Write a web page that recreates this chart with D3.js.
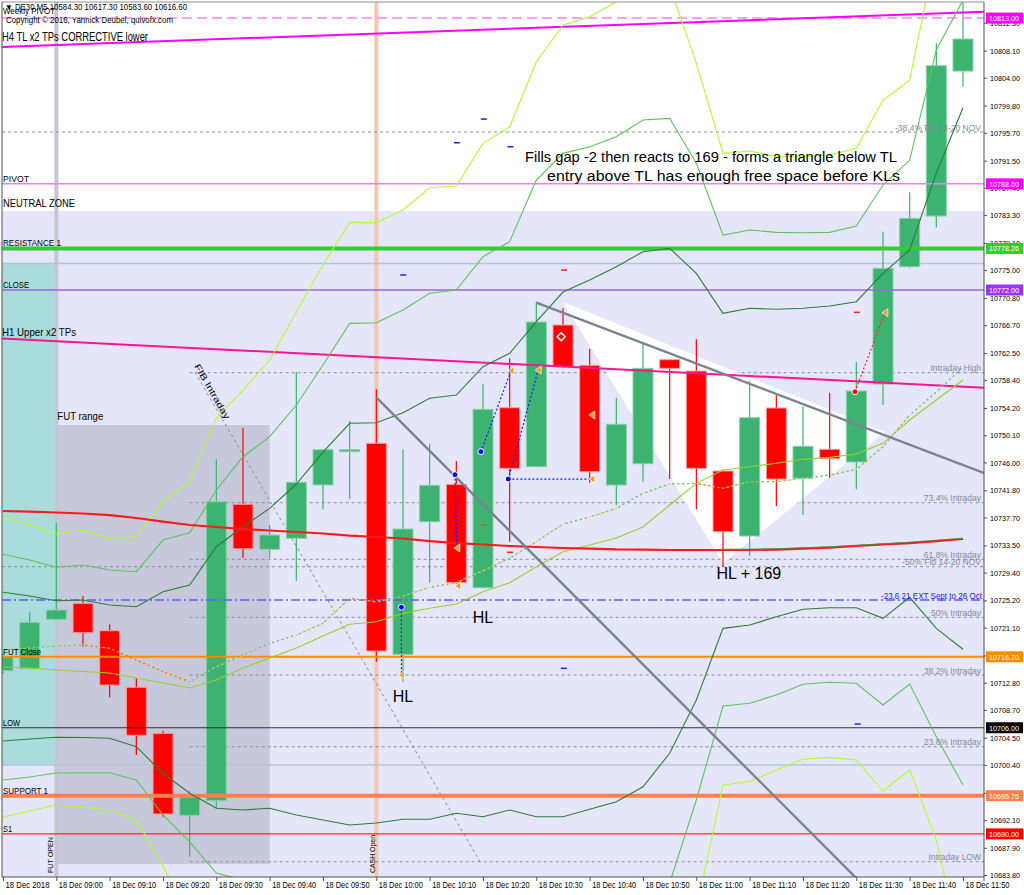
<!DOCTYPE html>
<html>
<head>
<meta charset="utf-8">
<script src="https://cdn.jsdelivr.net/npm/d3@7"></script>
<style>
  body { margin: 0; background: #fff; }
  svg { display: block; }
  text { font-family: "Liberation Sans", Arial, sans-serif; }
</style>
</head>
<body>
<svg width="1024" height="895"></svg>
<script>
// ---- candles, DE30 M5, 18 Dec 2018 08:50 .. 11:50 (bar index 0..36)
const opens  = [10714.6, 10714.9, 10722.35, 10724.76, 10720.63, 10712.1, 10705.16, 10692.8, 10695.0, 10739.69, 10732.9, 10734.56, 10742.6, 10747.62, 10748.88, 10717.07, 10737.06, 10742.7, 10727.11, 10754.25, 10745.36, 10766.72, 10760.64, 10742.6, 10745.81, 10761.49, 10759.78, 10744.71, 10734.91, 10754.21, 10743.61, 10747.98, 10746.07, 10757.82, 10775.51, 10783.15, 10805.01];
const highs  = [10717.2, 10723.4, 10736.9, 10725.86, 10721.6, 10713.46, 10705.56, 10696.5, 10746.47, 10751.24, 10736.57, 10759.63, 10748.0, 10752.25, 10757.02, 10747.98, 10748.73, 10746.22, 10757.78, 10761.7, 10770.23, 10769.24, 10763.15, 10755.76, 10763.96, 10761.6, 10764.56, 10744.9, 10758.23, 10756.12, 10754.46, 10756.51, 10761.14, 10780.79, 10786.73, 10809.19, 10817.0];
const lows   = [10714.2, 10714.9, 10722.3, 10718.22, 10710.59, 10701.89, 10692.59, 10686.56, 10693.86, 10731.64, 10731.64, 10728.12, 10738.93, 10740.53, 10715.96, 10712.94, 10727.87, 10727.7, 10727.0, 10734.05, 10745.3, 10760.3, 10742.94, 10739.58, 10743.09, 10743.5, 10738.93, 10730.28, 10731.89, 10739.43, 10738.07, 10743.7, 10741.95, 10754.66, 10775.3, 10781.39, 10802.65];
const closes = [10716.7, 10721.9, 10723.75, 10720.33, 10712.44, 10704.86, 10693.0, 10695.6, 10740.08, 10732.99, 10735.06, 10743.0, 10747.92, 10747.92, 10717.57, 10735.96, 10742.55, 10727.87, 10754.01, 10745.11, 10767.17, 10760.43, 10744.6, 10751.75, 10760.19, 10760.19, 10745.11, 10735.56, 10752.74, 10743.5, 10748.43, 10746.56, 10756.77, 10775.27, 10782.8, 10805.81, 10809.84];

// ---- indicators
const maSlow = [10738.68, 10738.60, 10738.45, 10738.30, 10738.07, 10737.62, 10737.09, 10736.57, 10736.27, 10735.96, 10735.74, 10735.51, 10735.29, 10734.98, 10734.76, 10734.53, 10734.15, 10733.85, 10733.63, 10733.40, 10733.25, 10733.10, 10733.02, 10732.90, 10732.87, 10732.80, 10732.80, 10732.80, 10732.80, 10732.87, 10733.02, 10733.17, 10733.40, 10733.63, 10733.85, 10734.15, 10734.46];
const bandOuterUp = [10737.82, 10736.57, 10735.21, 10735.81, 10734.56, 10734.80, 10740.08, 10743.09, 10752.70, 10756.92, 10761.44, 10768.68, 10775.76, 10782.20, 10782.14, 10784.06, 10787.42, 10787.67, 10794.11, 10796.61, 10806.41, 10811.95, 10813.20, 10815.46, 10818.73, 10817.83, 10806.17, 10792.60, 10792.95, 10792.09, 10792.09, 10792.35, 10793.36, 10800.64, 10803.65, 10823.25, 10829.28];
const bandMidUp   = [10732.15, 10731.29, 10730.19, 10730.54, 10729.78, 10729.53, 10734.30, 10735.41, 10741.84, 10746.86, 10749.88, 10754.66, 10760.69, 10766.97, 10767.06, 10768.98, 10771.50, 10771.99, 10777.02, 10779.28, 10788.58, 10792.60, 10793.60, 10795.11, 10797.62, 10797.88, 10791.10, 10780.29, 10781.04, 10780.69, 10780.63, 10780.69, 10781.64, 10787.82, 10791.59, 10808.18, 10815.72];
const bandInnerUp = [10726.42, 10725.86, 10725.15, 10725.26, 10724.51, 10724.25, 10726.51, 10727.52, 10733.29, 10736.31, 10739.08, 10742.75, 10747.57, 10751.90, 10751.99, 10753.50, 10755.67, 10756.16, 10760.43, 10762.45, 10767.22, 10771.69, 10773.50, 10775.51, 10777.77, 10778.28, 10774.51, 10768.48, 10769.24, 10769.09, 10769.24, 10769.58, 10770.23, 10774.51, 10778.03, 10789.63, 10799.48];
const bandInnerDn = [10704.00, 10704.30, 10704.56, 10704.53, 10704.41, 10703.14, 10699.13, 10696.12, 10693.86, 10693.60, 10693.86, 10692.85, 10692.09, 10691.34, 10691.64, 10692.20, 10692.20, 10693.10, 10692.59, 10693.60, 10692.59, 10692.59, 10693.70, 10694.85, 10697.11, 10702.15, 10710.18, 10720.99, 10721.49, 10722.74, 10723.86, 10724.10, 10724.10, 10722.50, 10725.67, 10720.99, 10717.83];
const bandMidDn   = [10698.12, 10698.57, 10699.18, 10699.22, 10699.22, 10698.12, 10692.85, 10688.78, 10684.10, 10683.05, 10683.05, 10680.94, 10678.98, 10676.26, 10676.56, 10676.71, 10676.41, 10677.32, 10675.96, 10676.71, 10671.14, 10671.59, 10673.70, 10675.21, 10677.17, 10682.59, 10695.11, 10709.28, 10709.69, 10710.94, 10712.55, 10712.85, 10712.70, 10709.43, 10712.60, 10704.65, 10697.37];
const bandOuterDn = [10692.54, 10693.45, 10694.35, 10694.05, 10693.60, 10692.09, 10685.16, 10677.02, 10674.45, 10672.95, 10671.59, 10666.91, 10663.90, 10661.04, 10661.49, 10661.64, 10660.43, 10661.64, 10658.92, 10659.38, 10653.35, 10652.29, 10654.10, 10654.85, 10656.06, 10662.69, 10678.52, 10697.37, 10697.87, 10699.63, 10701.24, 10701.54, 10701.14, 10696.46, 10699.63, 10689.08, 10670.99];
const bandMid     = [10715.16, 10715.01, 10714.71, 10714.48, 10714.25, 10713.50, 10712.75, 10711.99, 10713.20, 10715.01, 10716.51, 10718.02, 10719.83, 10721.60, 10721.99, 10723.25, 10724.01, 10724.66, 10726.51, 10727.87, 10730.28, 10732.54, 10733.55, 10734.61, 10736.26, 10739.58, 10742.85, 10744.86, 10745.36, 10745.87, 10746.47, 10746.77, 10747.27, 10748.88, 10752.40, 10755.41, 10758.43];
const signalLine  = [10717.72, 10718.02, 10718.32, 10718.47, 10717.98, 10716.21, 10714.45, 10712.94, 10715.20, 10716.97, 10718.73, 10719.98, 10721.75, 10725.52, 10725.00, 10725.86, 10727.17, 10727.87, 10729.68, 10731.55, 10734.05, 10736.72, 10737.77, 10739.08, 10741.35, 10742.75, 10742.85, 10742.10, 10743.10, 10743.10, 10743.61, 10744.10, 10744.96, 10748.37, 10753.15, 10756.62, 10760.39];

// ---- axes
const xTickBars = [0, 2, 4, 6, 8, 10, 12, 14, 16, 18, 20, 22, 24, 26, 28, 30, 32, 34, 36];
const xTickLabels = ['18 Dec 2018', '18 Dec 09:00', '18 Dec 09:10', '18 Dec 09:20', '18 Dec 09:30', '18 Dec 09:40', '18 Dec 09:50', '18 Dec 10:00', '18 Dec 10:10', '18 Dec 10:20', '18 Dec 10:30', '18 Dec 10:40', '18 Dec 10:50', '18 Dec 11:00', '18 Dec 11:10', '18 Dec 11:20', '18 Dec 11:30', '18 Dec 11:40', '18 Dec 11:50'];
const yTickValues = [10812.30, 10808.10, 10804.00, 10799.80, 10795.70, 10791.50, 10787.40, 10783.30, 10779.10, 10775.00, 10770.80, 10766.70, 10762.50, 10758.40, 10754.20, 10750.10, 10746.00, 10741.80, 10737.70, 10733.50, 10729.40, 10725.20, 10721.10, 10716.90, 10712.80, 10708.70, 10704.50, 10700.40, 10696.20, 10692.10, 10687.90, 10683.80];

// ---- horizontal key levels
const levelNames  = ['Weekly PIVOT', 'PIVOT', 'RESISTANCE 1', 'CLOSE', 'FUT Close', 'LOW', 'SUPPORT 1', 'S1'];
const levelValues = [10813.00, 10788.00, 10778.26, 10772.00, 10716.70, 10706.00, 10695.76, 10690.00];
const levelStyle = {
  'Weekly PIVOT': { stroke: '#ff80ff', width: 1.5, dash: '10,5', tag: '#ff00ff' },
  'PIVOT':        { stroke: '#ff77ff', width: 1.5, dash: null, tag: '#ff00ff' },
  'RESISTANCE 1': { stroke: '#33cc33', width: 4,   dash: null, tag: '#33cc33' },
  'CLOSE':        { stroke: '#9966dd', width: 1.5, dash: null, tag: '#9933ff' },
  'FUT Close':    { stroke: '#ff8c00', width: 2,   dash: null, tag: '#ff8c00' },
  'LOW':          { stroke: '#303030', width: 1,   dash: null, tag: '#000000' },
  'SUPPORT 1':    { stroke: '#ff7f50', width: 4,   dash: null, tag: '#ff7f50' },
  'S1':           { stroke: '#ff0000', width: 1,   dash: null, tag: '#ff0000' }
};
const greyLevels = [10775.99, 10700.38];

// ---- fib levels
const fibNames  = ['Intraday High', '73.4%  Intraday', '61.8% Intraday', '50%  Intraday', '38.2%  Intraday', '23.6%  Intraday', 'Intraday LOW'];
const fibValues = [10759.53, 10739.93, 10731.40, 10722.65, 10713.95, 10703.14, 10685.80];
const fibStartBar = 7;
const novFibNames  = ['-38.4%  Fib 14-20  NOV', '-50%  Fib 14-20  NOV'];
const novFibValues = [10795.82, 10730.28];
const extName  = '-23.6   21 EXT Sept to 26 Oct';
const extValue = 10725.26;

// ---- zones  [barFrom, barTo, priceTop, priceBottom]
const neutralZoneTop = 10783.9;
const cashZone = [-0.3, 1.95, 10775.99, 10700.38];
const futRange = [2.0, 10.0, 10751.64, 10685.46];
const futOpenBar = 2, cashOpenBar = 14;

// ---- drawn lines  [bar, price]
const h4Line     = [[-0.2, 10808.62], [36.8, 10813.94]];
const h1Line     = [[-0.2, 10764.73], [36.8, 10757.27]];
const tlCash     = [[14.0, 10755.8], [33.0, 10679.3]];
const tlTriangle = [[20.0, 10770.1], [36.8, 10744.4]];
const fibDiag    = [[7.2, 10759.6], [17.89, 10685.8]];
const triangleZone = [[21.0, 10770.19], [33.07, 10750.59], [27.0, 10730.84]];

// ---- trades  [barFrom, priceFrom, barTo, priceTo]
const buyTrades = [[14.94, 10724.16, 14.94, 10713.95], [16.95, 10744.15, 17.02, 10733.10], [17.92, 10747.62, 19.05, 10759.83], [18.95, 10743.50, 22.08, 10743.50], [18.95, 10743.50, 20.07, 10759.93]];
const sellTrades = [[31.95, 10756.66, 33.07, 10768.57]];
const exitMarks = [[14.94, 10713.95], [17.02, 10733.10], [19.05, 10759.83], [22.08, 10743.50], [20.07, 10759.93], [33.07, 10768.57], [22.08, 10753.15], [17.05, 10727.4]];
const diamondMarks = [[20.93, 10764.95]];
const blueDashes = [[18.03, 10797.77], [17.02, 10794.20], [19.03, 10793.60], [15.01, 10774.26], [21.03, 10714.96], [32.05, 10706.56]];
const redDashes = [[21.04, 10775.01], [32.02, 10768.63], [19.01, 10732.45]];
const brownDashes = [[18.01, 10736.57]];

// ---- notes  [bar, price, text]
const notes = [[15.0, 10709.88, 'HL'], [18.0, 10721.79, 'HL'], [27.97, 10728.42, 'HL + 169']];
const comment = [[26.55, 10791.29, 'Fills gap -2 then reacts to 169 - forms a triangle below TL'], [27.02, 10788.43, 'entry above TL has enough free space before KLs']];

// =====================================================================
const svg = d3.select('svg');
const plotL = 2, plotT = 2, plotR = 984, plotB = 877;

const x = d3.scaleLinear().domain([0, 36]).range([3, 963]);
const y = d3.scaleLinear().domain([10683.8, 10812.3]).range([875, 22.7]);

svg.append('rect').attr('width', 1024).attr('height', 895).attr('fill', '#fff');

svg.append('defs').append('clipPath').attr('id', 'plot')
  .append('rect')
  .attr('x', plotL).attr('y', plotT)
  .attr('width', plotR - plotL).attr('height', plotB - plotT);

const g = svg.append('g').attr('clip-path', 'url(#plot)');

// background zones
g.append('rect')
  .attr('x', plotL).attr('y', y(neutralZoneTop))
  .attr('width', plotR - plotL).attr('height', plotB - y(neutralZoneTop))
  .attr('fill', '#e6e6fa');

g.append('rect')
  .attr('x', x(cashZone[0])).attr('y', y(cashZone[2]))
  .attr('width', x(cashZone[1]) - x(cashZone[0])).attr('height', y(cashZone[3]) - y(cashZone[2]))
  .attr('fill', '#abdcdc');
g.append('line')
  .attr('x1', x(cashZone[1])).attr('x2', x(cashZone[1]))
  .attr('y1', y(cashZone[2])).attr('y2', y(cashZone[3]))
  .attr('stroke', '#88ffff').attr('stroke-width', 2);

g.append('rect')
  .attr('x', x(futRange[0])).attr('y', y(futRange[2]))
  .attr('width', x(futRange[1]) - x(futRange[0])).attr('height', y(futRange[3]) - y(futRange[2]))
  .attr('fill', '#c8c8dc');

// session lines
g.append('line')
  .attr('x1', x(futOpenBar)).attr('x2', x(futOpenBar)).attr('y1', plotT).attr('y2', plotB)
  .attr('stroke', '#c6c6d2').attr('stroke-width', 4);
g.append('line')
  .attr('x1', x(cashOpenBar)).attr('x2', x(cashOpenBar)).attr('y1', plotT).attr('y2', plotB)
  .attr('stroke', '#f3c8b0').attr('stroke-width', 4);

g.selectAll('line.grey').data(greyLevels).join('line')
  .attr('x1', plotL).attr('x2', plotR)
  .attr('y1', d => y(d)).attr('y2', d => y(d))
  .attr('stroke', '#b4c4da').attr('stroke-width', 1.5);

// fib levels
g.selectAll('line.fib').data(fibValues).join('line')
  .attr('x1', x(fibStartBar)).attr('x2', plotR)
  .attr('y1', d => y(d)).attr('y2', d => y(d))
  .attr('stroke', '#8c8c9c').attr('stroke-dasharray', '3,3');
g.selectAll('line.nov').data(novFibValues).join('line')
  .attr('x1', plotL).attr('x2', plotR)
  .attr('y1', d => y(d)).attr('y2', d => y(d))
  .attr('stroke', '#8c8c9c').attr('stroke-dasharray', '3,3');

const pt = d3.line().x(d => x(d[0])).y(d => y(d[1]));

g.append('path').attr('d', pt(fibDiag))
  .attr('stroke', '#8c8c8c').attr('stroke-dasharray', '3,3').attr('fill', 'none');

// triangle
g.append('path').attr('d', pt(triangleZone) + 'Z').attr('fill', '#ffffff');

// candles
const bars = d3.range(opens.length);
const bull = i => closes[i] >= opens[i];
g.selectAll('line.wick').data(bars).join('line')
  .attr('x1', i => x(i)).attr('x2', i => x(i))
  .attr('y1', i => y(highs[i])).attr('y2', i => y(lows[i]))
  .attr('stroke', i => bull(i) ? '#3cb371' : '#ff0000').attr('stroke-width', 1.2);
g.selectAll('rect.body').data(bars).join('rect')
  .attr('x', i => x(i) - 10)
  .attr('y', i => y(Math.max(opens[i], closes[i])))
  .attr('width', 20)
  .attr('height', i => Math.max(1.5, Math.abs(y(opens[i]) - y(closes[i]))))
  .attr('fill', i => bull(i) ? '#3cb371' : '#ff0000')
  .attr('stroke', i => bull(i) ? '#86d2a6' : '#ff9c9c').attr('stroke-width', 1);

// key levels
levelNames.forEach((name, k) => {
  const s = levelStyle[name];
  g.append('line')
    .attr('x1', plotL).attr('x2', plotR)
    .attr('y1', y(levelValues[k])).attr('y2', y(levelValues[k]))
    .attr('stroke', s.stroke).attr('stroke-width', s.width)
    .attr('stroke-dasharray', s.dash);
});
g.append('line')
  .attr('x1', plotL).attr('x2', plotR).attr('y1', y(extValue)).attr('y2', y(extValue))
  .attr('stroke', '#5c5cff').attr('stroke-width', 1.5).attr('stroke-dasharray', '9,3,2,3');

// trend lines
g.append('path').attr('d', pt(h4Line)).attr('stroke', '#ff00ff').attr('stroke-width', 2).attr('fill', 'none');
g.append('path').attr('d', pt(h1Line)).attr('stroke', '#ff1493').attr('stroke-width', 2).attr('fill', 'none');

// indicator lines
const series = d3.line().x((d, i) => x(i)).y(d => y(d));
[[bandOuterUp, '#adff2f'], [bandOuterDn, '#adff2f'],
 [bandMidUp, '#5cc45c'], [bandMidDn, '#5cc45c'],
 [bandInnerUp, '#2c7d36'], [bandInnerDn, '#2c7d36'],
 [bandMid, '#9acd32']].forEach(([data, col]) => {
  g.append('path').attr('d', series(data))
    .attr('fill', 'none').attr('stroke', col).attr('stroke-width', 1.1);
});

g.append('path').attr('d', series(signalLine))
  .attr('fill', 'none').attr('stroke', '#e8e030').attr('stroke-width', 1.2).attr('stroke-dasharray', '2,3');
g.selectAll('line.sig').data(d3.range(signalLine.length - 1)).join('line')
  .attr('x1', i => x(i)).attr('x2', i => x(i + 1))
  .attr('y1', i => y(signalLine[i])).attr('y2', i => y(signalLine[i + 1]))
  .attr('stroke', i => signalLine[i + 1] < signalLine[i] ? '#ff5a28' : '#5fb8a8')
  .attr('stroke-width', 1.2).attr('stroke-dasharray', '2,3').attr('stroke-dashoffset', 2.5);

g.append('path').attr('d', series(maSlow))
  .attr('fill', 'none').attr('stroke', '#ff1a1a').attr('stroke-width', 2.2);
g.append('path')
  .attr('d', d3.line().x(d => x(d)).y(d => y(maSlow[d]) - 0.8)(d3.range(27, 37)))
  .attr('fill', 'none').attr('stroke', '#2e9a4a').attr('stroke-width', 0.9);

// gray trend lines
g.append('path').attr('d', pt(tlCash)).attr('stroke', '#7a838f').attr('stroke-width', 2.4).attr('fill', 'none');
g.append('path').attr('d', pt(tlTriangle)).attr('stroke', '#7a838f').attr('stroke-width', 2.4).attr('fill', 'none');

// trades
g.selectAll('line.buy').data(buyTrades).join('line')
  .attr('x1', d => x(d[0])).attr('y1', d => y(d[1]))
  .attr('x2', d => x(d[2])).attr('y2', d => y(d[3]))
  .attr('stroke', '#1a1aff').attr('stroke-width', 1.2).attr('stroke-dasharray', '2,2');
g.selectAll('line.sell').data(sellTrades).join('line')
  .attr('x1', d => x(d[0])).attr('y1', d => y(d[1]))
  .attr('x2', d => x(d[2])).attr('y2', d => y(d[3]))
  .attr('stroke', '#ff2020').attr('stroke-width', 1.2).attr('stroke-dasharray', '2,2');
g.selectAll('circle.buy').data(buyTrades).join('circle')
  .attr('cx', d => x(d[0])).attr('cy', d => y(d[1])).attr('r', 3)
  .attr('fill', '#0000ff').attr('stroke', '#ffffff').attr('stroke-width', 1);
g.selectAll('circle.sell').data(sellTrades).join('circle')
  .attr('cx', d => x(d[0])).attr('cy', d => y(d[1])).attr('r', 3)
  .attr('fill', '#ff0000').attr('stroke', '#ffffff').attr('stroke-width', 1);
g.selectAll('path.exit').data(exitMarks).join('path')
  .attr('d', d => { const px = x(d[0]), py = y(d[1]); return `M${px + 3},${py - 4}L${px - 3},${py}L${px + 3},${py + 4}Z`; })
  .attr('fill', '#f0a020').attr('stroke', '#ffffff').attr('stroke-width', 0.7);
g.selectAll('path.dia').data(diamondMarks).join('path')
  .attr('d', d => { const px = x(d[0]), py = y(d[1]); return `M${px},${py - 4}L${px + 4},${py}L${px},${py + 4}L${px - 4},${py}Z`; })
  .attr('fill', 'none').attr('stroke', '#ffffff').attr('stroke-width', 1.5);

[[blueDashes, '#2020ff'], [redDashes, '#ff2020'], [brownDashes, '#b06040']].forEach(([data, col]) => {
  g.selectAll(null).data(data).join('line')
    .attr('x1', d => x(d[0]) - 3).attr('x2', d => x(d[0]) + 3)
    .attr('y1', d => y(d[1])).attr('y2', d => y(d[1]))
    .attr('stroke', col).attr('stroke-width', 1.5);
});

// ---- texts inside plot
const lbl = (t, px, py, size, len, col) => {
  const el = g.append('text').attr('x', px).attr('y', py)
    .attr('font-size', size).attr('fill', col || '#000').text(t);
  if (len) el.attr('textLength', len).attr('lengthAdjust', 'spacingAndGlyphs');
  return el;
};

lbl('Weekly PIVOT', 3, 14, 9.5, 52);
lbl('\u25BC DE30,M5  10584.30 10617.30 10583.60 10616.60', 5, 10, 8.5, 182);
lbl('Copyright \u00A9 2016, Yannick Deubel, quivofx.com', 6, 23, 8.5, 167);
lbl('H4 TL x2 TPs CORRECTIVE lower', 2, 41, 12, 146);

const leftLen = { 'PIVOT': 26, 'RESISTANCE 1': 58, 'CLOSE': 26, 'FUT Close': 38, 'LOW': 17, 'SUPPORT 1': 45, 'S1': 9 };
levelNames.slice(1).forEach((name, k) => {
  lbl(name, 3, y(levelValues[k + 1]) - 2, 9, leftLen[name]);
});
lbl('NEUTRAL ZONE', 3, y(neutralZoneTop) - 4, 10.5, 72);
lbl('H1 Upper x2 TPs', 2, 336, 11.5, 74);
lbl('FUT range', x(futRange[0]) + 1, y(futRange[2]) - 5, 11, 46);

lbl('FUT OPEN', 0, 0, 8, 36).attr('transform', `translate(${x(futOpenBar) - 3},873) rotate(-90)`);
lbl('CASH Open', 0, 0, 8, 38).attr('transform', `translate(${x(cashOpenBar) - 1},873) rotate(-90)`);
lbl('FIB Intraday', 0, 0, 9, 62).attr('transform', `translate(${x(fibDiag[0][0]) - 1},${y(fibDiag[0][1]) - 6}) rotate(60)`);

fibNames.forEach((name, k) => {
  lbl(name, 981, y(fibValues[k]) - 1.5, 8.5, null, '#7f8a9a').attr('text-anchor', 'end');
});
novFibNames.forEach((name, k) => {
  lbl(name, 981, y(novFibValues[k]) - 1.5, 8.5, null, '#7f8a9a').attr('text-anchor', 'end');
});
lbl(extName, 982, y(extValue) - 1.5, 8.5, 101, '#2020ff').attr('text-anchor', 'end');

notes.forEach(d => lbl(d[2], x(d[0]), y(d[1]), 16).attr('text-anchor', 'middle'));
lbl(comment[0][2], x(comment[0][0]), y(comment[0][1]), 15.5, 372).attr('text-anchor', 'middle');
lbl(comment[1][2], x(comment[1][0]), y(comment[1][1]), 15.5, 353).attr('text-anchor', 'middle');

// ---- frame
svg.append('line').attr('x1', plotL).attr('x2', plotL).attr('y1', plotT).attr('y2', plotB).attr('stroke', '#505050');
svg.append('line').attr('x1', plotL).attr('x2', plotR).attr('y1', plotT).attr('y2', plotT).attr('stroke', '#909090');
svg.append('line').attr('x1', plotR).attr('x2', plotR).attr('y1', plotT).attr('y2', plotB + 4).attr('stroke', '#505050');
svg.append('line').attr('x1', plotL).attr('x2', plotR).attr('y1', plotB).attr('y2', plotB).attr('stroke', '#505050');

// ---- axes (labels fully covered by a level tag are left out, as in the original)
const hiddenTicks = yTickValues.filter(v => levelValues.some(l => Math.abs(y(v) - y(l)) < 3.5));
const yAxis = d3.axisRight(y)
  .tickValues(yTickValues)
  .tickFormat(d => hiddenTicks.includes(d) ? '' : d3.format('.2f')(d))
  .tickSize(3).tickPadding(3);
const ya = svg.append('g').attr('transform', `translate(${plotR},0)`).call(yAxis);
ya.select('.domain').remove();
ya.selectAll('line').attr('stroke', '#505050');
ya.selectAll('text').attr('font-size', 8).attr('fill', '#000')
  .attr('font-family', '"Liberation Sans", Arial, sans-serif')
  .filter(d => !hiddenTicks.includes(d))
  .attr('textLength', 30).attr('lengthAdjust', 'spacingAndGlyphs');

const xAxis = d3.axisBottom(x).tickValues(xTickBars).tickFormat((d, i) => xTickLabels[i]).tickSize(4).tickPadding(1);
const xa = svg.append('g').attr('transform', `translate(0,${plotB})`).call(xAxis);
xa.select('.domain').remove();
xa.selectAll('line').attr('stroke', '#505050');
xa.selectAll('text').attr('font-size', 8.5).attr('fill', '#000')
  .attr('font-family', '"Liberation Sans", Arial, sans-serif')
  .attr('text-anchor', 'start').attr('dx', 2)
  .attr('textLength', 44).attr('lengthAdjust', 'spacingAndGlyphs');

// ---- level tags on the price axis
const tags = svg.append('g');
levelNames.forEach((name, k) => {
  const cy = y(levelValues[k]);
  tags.append('rect')
    .attr('x', plotR + 2).attr('y', cy - 5.5).attr('width', 37).attr('height', 11)
    .attr('fill', levelStyle[name].tag);
  tags.append('text')
    .attr('x', plotR + 5).attr('y', cy + 3)
    .attr('font-size', 8).attr('fill', '#ffffff')
    .attr('textLength', 30).attr('lengthAdjust', 'spacingAndGlyphs')
    .text(levelValues[k].toFixed(2));
});
</script>
</body>
</html>
